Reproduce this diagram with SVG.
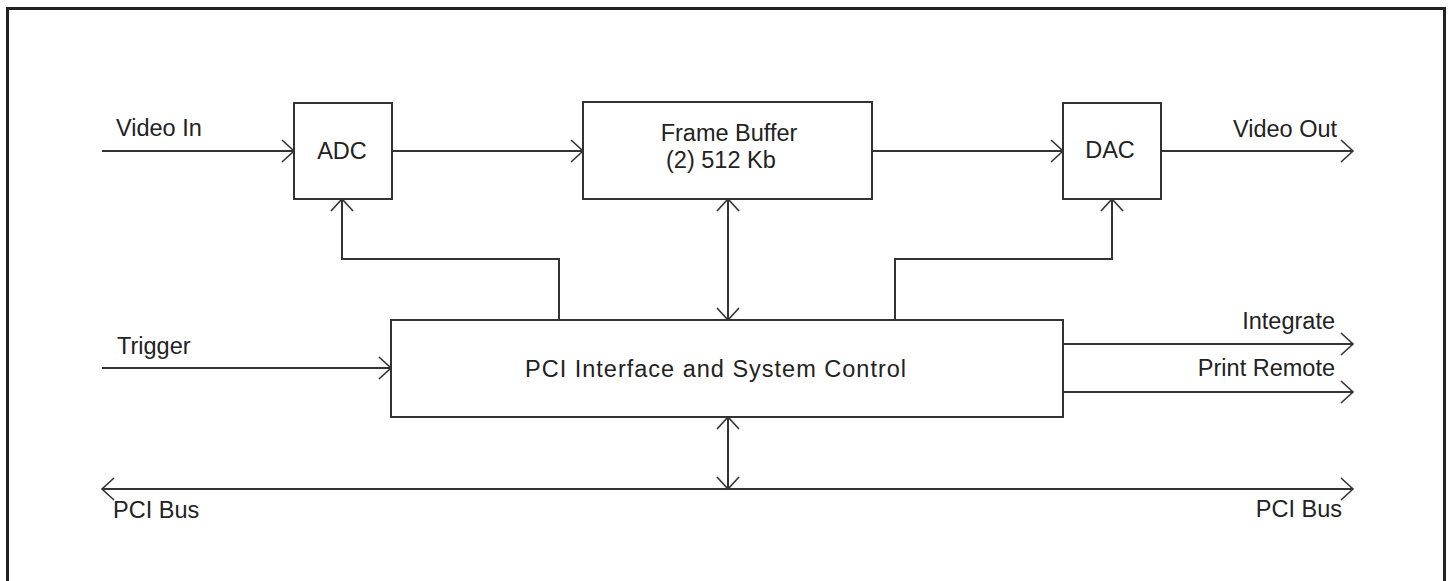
<svg xmlns="http://www.w3.org/2000/svg" width="1448" height="581" viewBox="0 0 1448 581">
<style>
.box{fill:#fff;stroke:#333;stroke-width:2}
.ln{fill:none;stroke:#333;stroke-width:2}
text{font-family:"Liberation Sans",Arial,sans-serif;font-size:23.5px;fill:#222}
.c{text-anchor:middle}
.e{text-anchor:end}
</style>
<defs>
<marker id="ah" markerUnits="userSpaceOnUse" markerWidth="30" markerHeight="30" refX="15" refY="15" orient="auto-start-reverse" viewBox="0 0 30 30">
<path d="M3,4 L15,15 L3,26" fill="none" stroke="#333" stroke-width="1.6"/>
</marker>
</defs>
<rect x="0" y="0" width="1448" height="581" fill="#fff"/>
<rect x="7.5" y="8.5" width="1437" height="590" fill="none" stroke="#222" stroke-width="3"/>
<g id="connectors">
<line class="ln" x1="102" y1="151" x2="294" y2="151" marker-end="url(#ah)"/>
<line class="ln" x1="392" y1="151" x2="583" y2="151" marker-end="url(#ah)"/>
<line class="ln" x1="872" y1="151" x2="1063" y2="151" marker-end="url(#ah)"/>
<line class="ln" x1="1161" y1="151" x2="1353" y2="151" marker-end="url(#ah)"/>
<polyline class="ln" points="559,320 559,259 342,259 342,199" marker-end="url(#ah)"/>
<polyline class="ln" points="895,320 895,259 1112,259 1112,199" marker-end="url(#ah)"/>
<line class="ln" x1="728" y1="199" x2="728" y2="320" marker-start="url(#ah)" marker-end="url(#ah)"/>
<line class="ln" x1="102" y1="368" x2="391" y2="368" marker-end="url(#ah)"/>
<line class="ln" x1="1063" y1="344" x2="1353" y2="344" marker-end="url(#ah)"/>
<line class="ln" x1="1063" y1="392" x2="1353" y2="392" marker-end="url(#ah)"/>
<line class="ln" x1="728" y1="417" x2="728" y2="489" marker-start="url(#ah)" marker-end="url(#ah)"/>
<line class="ln" x1="102" y1="489" x2="1353" y2="489" marker-start="url(#ah)" marker-end="url(#ah)"/>
</g>
<g id="adc"><rect class="box" x="294" y="103" width="98" height="96"/><text class="c" x="342" y="159">ADC</text></g>
<g id="framebuffer"><rect class="box" x="583" y="102" width="289" height="97"/><text class="c" x="729" y="141">Frame Buffer</text><text x="666" y="168">(2) 512 Kb</text></g>
<g id="dac"><rect class="box" x="1063" y="103" width="98" height="96"/><text class="c" x="1110" y="158">DAC</text></g>
<g id="pci"><rect class="box" x="391" y="320" width="672" height="97"/><text x="525" y="377" letter-spacing="1">PCI Interface and System Control</text></g>
<g id="labels">
<text x="116" y="136">Video In</text>
<text x="1233" y="137">Video Out</text>
<text x="117" y="354">Trigger</text>
<text class="e" x="1335" y="329">Integrate</text>
<text class="e" x="1335" y="376">Print Remote</text>
<text x="113" y="518">PCI Bus</text>
<text class="e" x="1342" y="517">PCI Bus</text>
</g>
</svg>
